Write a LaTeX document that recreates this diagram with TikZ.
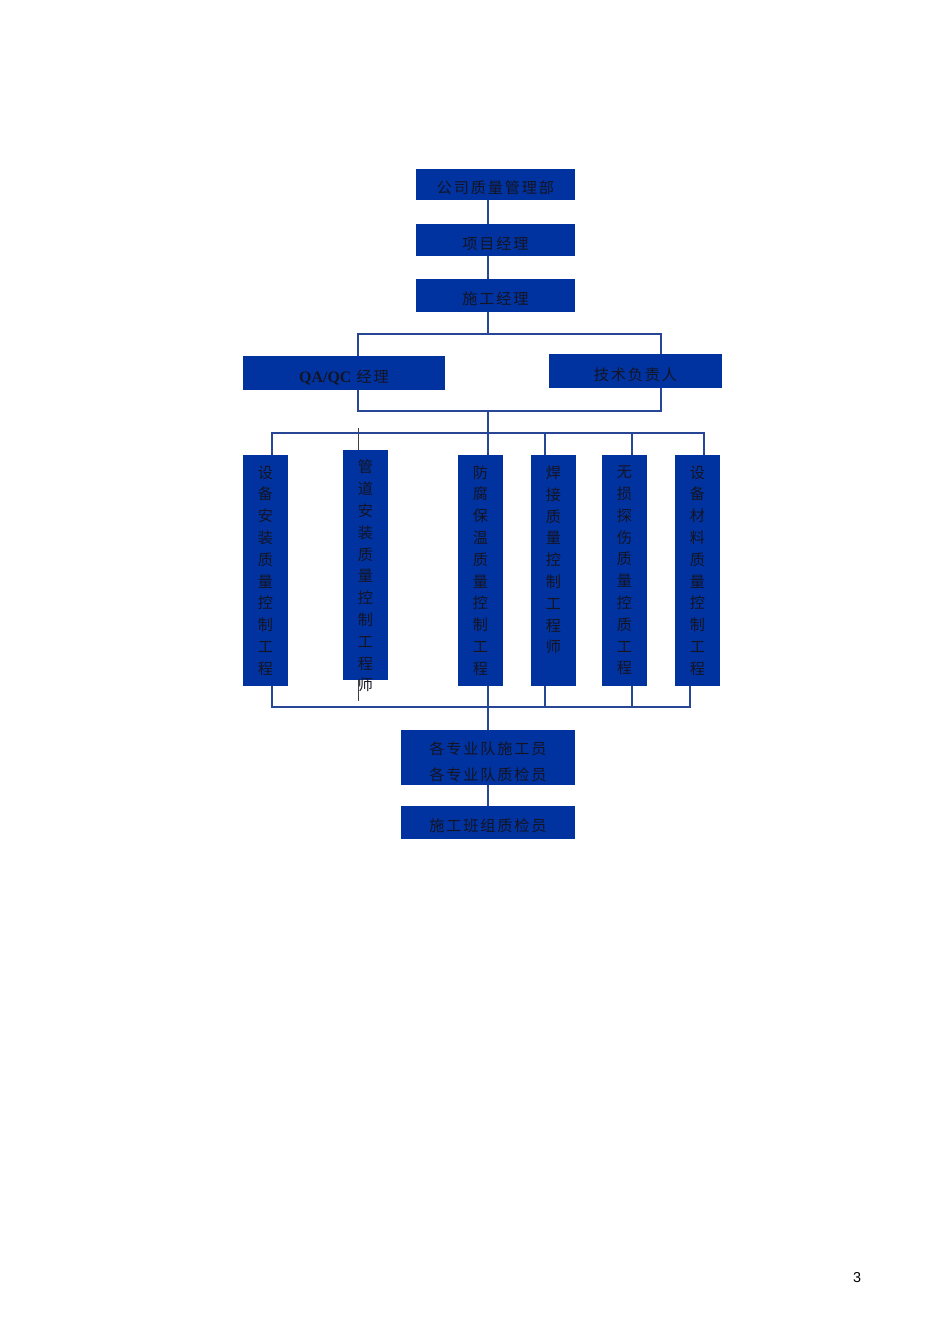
\documentclass[tikz,border=0pt]{standalone}
\usepackage{fontspec}
\setmainfont{Liberation Serif}
\newfontfamily\cjk[LetterSpace=12]{Noto Sans CJK SC}
\newfontfamily\pagefont{Liberation Sans}
\definecolor{qblue}{RGB}{0,51,160}
\definecolor{qline}{RGB}{40,70,150}
\definecolor{qtext}{RGB}{20,20,35}

\begin{document}
\begin{tikzpicture}[x=0.6266pt,y=0.6266pt,yscale=-1,xscale=1,
  hbox/.style={fill=qblue,draw=none,inner sep=0pt,text=qtext,
    font=\cjk\fontsize{9.5}{15.7}\selectfont,align=center},
  hline/.style={hbox,text height=12.5pt,text depth=1pt},
  vbox/.style={fill=qblue,draw=none,inner sep=0pt,minimum width=28.2pt,minimum height=144.7pt},
  vtext/.style={inner sep=0pt,text=qtext,align=center,font=\cjk\fontsize{9.5}{13.66}\selectfont},
  link/.style={draw=qline,line width=1pt},
  hair/.style={draw=black!75,line width=0.6pt}]
\useasboundingbox (0,0) rectangle (950,1344);

%thin line through the pipe box
\coordinate (p1) at (358,428);
\coordinate (p2) at (358,701);
\draw [hair] (p1) -- (p2);

%Boxes of the upper chain
\node [hline,minimum width=99.6pt,minimum height=19.4pt] (dept) at (495.5,184.5) {公司质量管理部};
\node [hline,minimum width=99.6pt,minimum height=20pt] (pm) at (495.5,240) {项目经理};
\node [hline,minimum width=99.6pt,minimum height=20.7pt] (cm) at (495.5,295.5) {施工经理};
\node [hline,minimum width=126.6pt,minimum height=21.3pt] (qa) at (344,373) {{\rmfamily\bfseries\fontsize{10}{12}\selectfont QA/QC} 经理};
\node [hline,minimum width=108.4pt,minimum height=21.3pt] (tech) at (635.5,371) {技术负责人};

%Upright boxes
\node [vbox] (v1) at (265.5,570.5) {};
\node [vbox] (v2) at (365.5,565) {};
\node [vbox] (v3) at (480.5,570.5) {};
\node [vbox] (v4) at (553.5,570.5) {};
\node [vbox] (v5) at (624.5,570.5) {};
\node [vbox] (v6) at (697.5,570.5) {};
% Text Node
\node [vtext] (v1t) at (v1.center) {设\\备\\安\\装\\质\\量\\控\\制\\工\\程};
\node [vtext] (v2t) at (365.5,576) {管\\道\\安\\装\\质\\量\\控\\制\\工\\程\\师};
\node [vtext] (v3t) at (v3.center) {防\\腐\\保\\温\\质\\量\\控\\制\\工\\程};
\node [vtext] (v4t) at (553.5,560) {焊\\接\\质\\量\\控\\制\\工\\程\\师};
\node [vtext] (v5t) at (v5.center) {无\\损\\探\\伤\\质\\量\\控\\质\\工\\程};
\node [vtext] (v6t) at (v6.center) {设\\备\\材\\料\\质\\量\\控\\制\\工\\程};

%Boxes of the lower chain
\node [hbox,text height=29pt,minimum width=109pt,minimum height=34.5pt] (team) at (488,757.5) {各专业队施工员\\各专业队质检员};
\node [hline,minimum width=109pt,minimum height=20.7pt] (crew) at (488,822.5) {施工班组质检员};

%Bars and drop points
\coordinate (spine) at (488,0);
\coordinate (b1l) at (358,334);
\coordinate (b1r) at (661,334);
\coordinate (b2l) at (358,411);
\coordinate (b2r) at (661,411);
\coordinate (b3l) at (272,433);
\coordinate (b3r) at (704,433);
\coordinate (k4) at (545,433);
\coordinate (k5) at (632,433);
\coordinate (b4l) at (272,707);
\coordinate (b4r) at (690,707);
\coordinate (m4) at (545,707);
\coordinate (m5) at (632,707);

%Straight Lines
\draw [link] (dept.south -| spine) -- (pm.north -| spine);
\draw [link] (pm.south -| spine) -- (cm.north -| spine);
\draw [link] (cm.south -| spine) -- (b1l -| spine);
\draw [link] (qa.north -| b1l) -- (b1l) -- (b1r) -- (tech.north -| b1r);
\draw [link] (qa.south -| b2l) -- (b2l) -- (b2r) -- (tech.south -| b2r);
\draw [link] (b2l -| spine) -- (v3.north -| spine);
\draw [link] (v1.north -| b3l) -- (b3l) -- (b3r) -- (v6.north -| b3r);
\draw [link] (k4) -- (v4.north -| k4);
\draw [link] (k5) -- (v5.north -| k5);
\draw [link] (v1.south -| b4l) -- (b4l) -- (b4r) -- (v6.south -| b4r);
\draw [link] (v4.south -| m4) -- (m4);
\draw [link] (v5.south -| m5) -- (m5);
\draw [link] (v3.south -| spine) -- (team.north -| spine);
\draw [link] (team.south -| spine) -- (crew.north -| spine);

% Text Node
\node [inner sep=0pt,font=\pagefont\fontsize{9}{11}\selectfont] (pageno) at (857,1278) {3};
\end{tikzpicture}
\end{document}
